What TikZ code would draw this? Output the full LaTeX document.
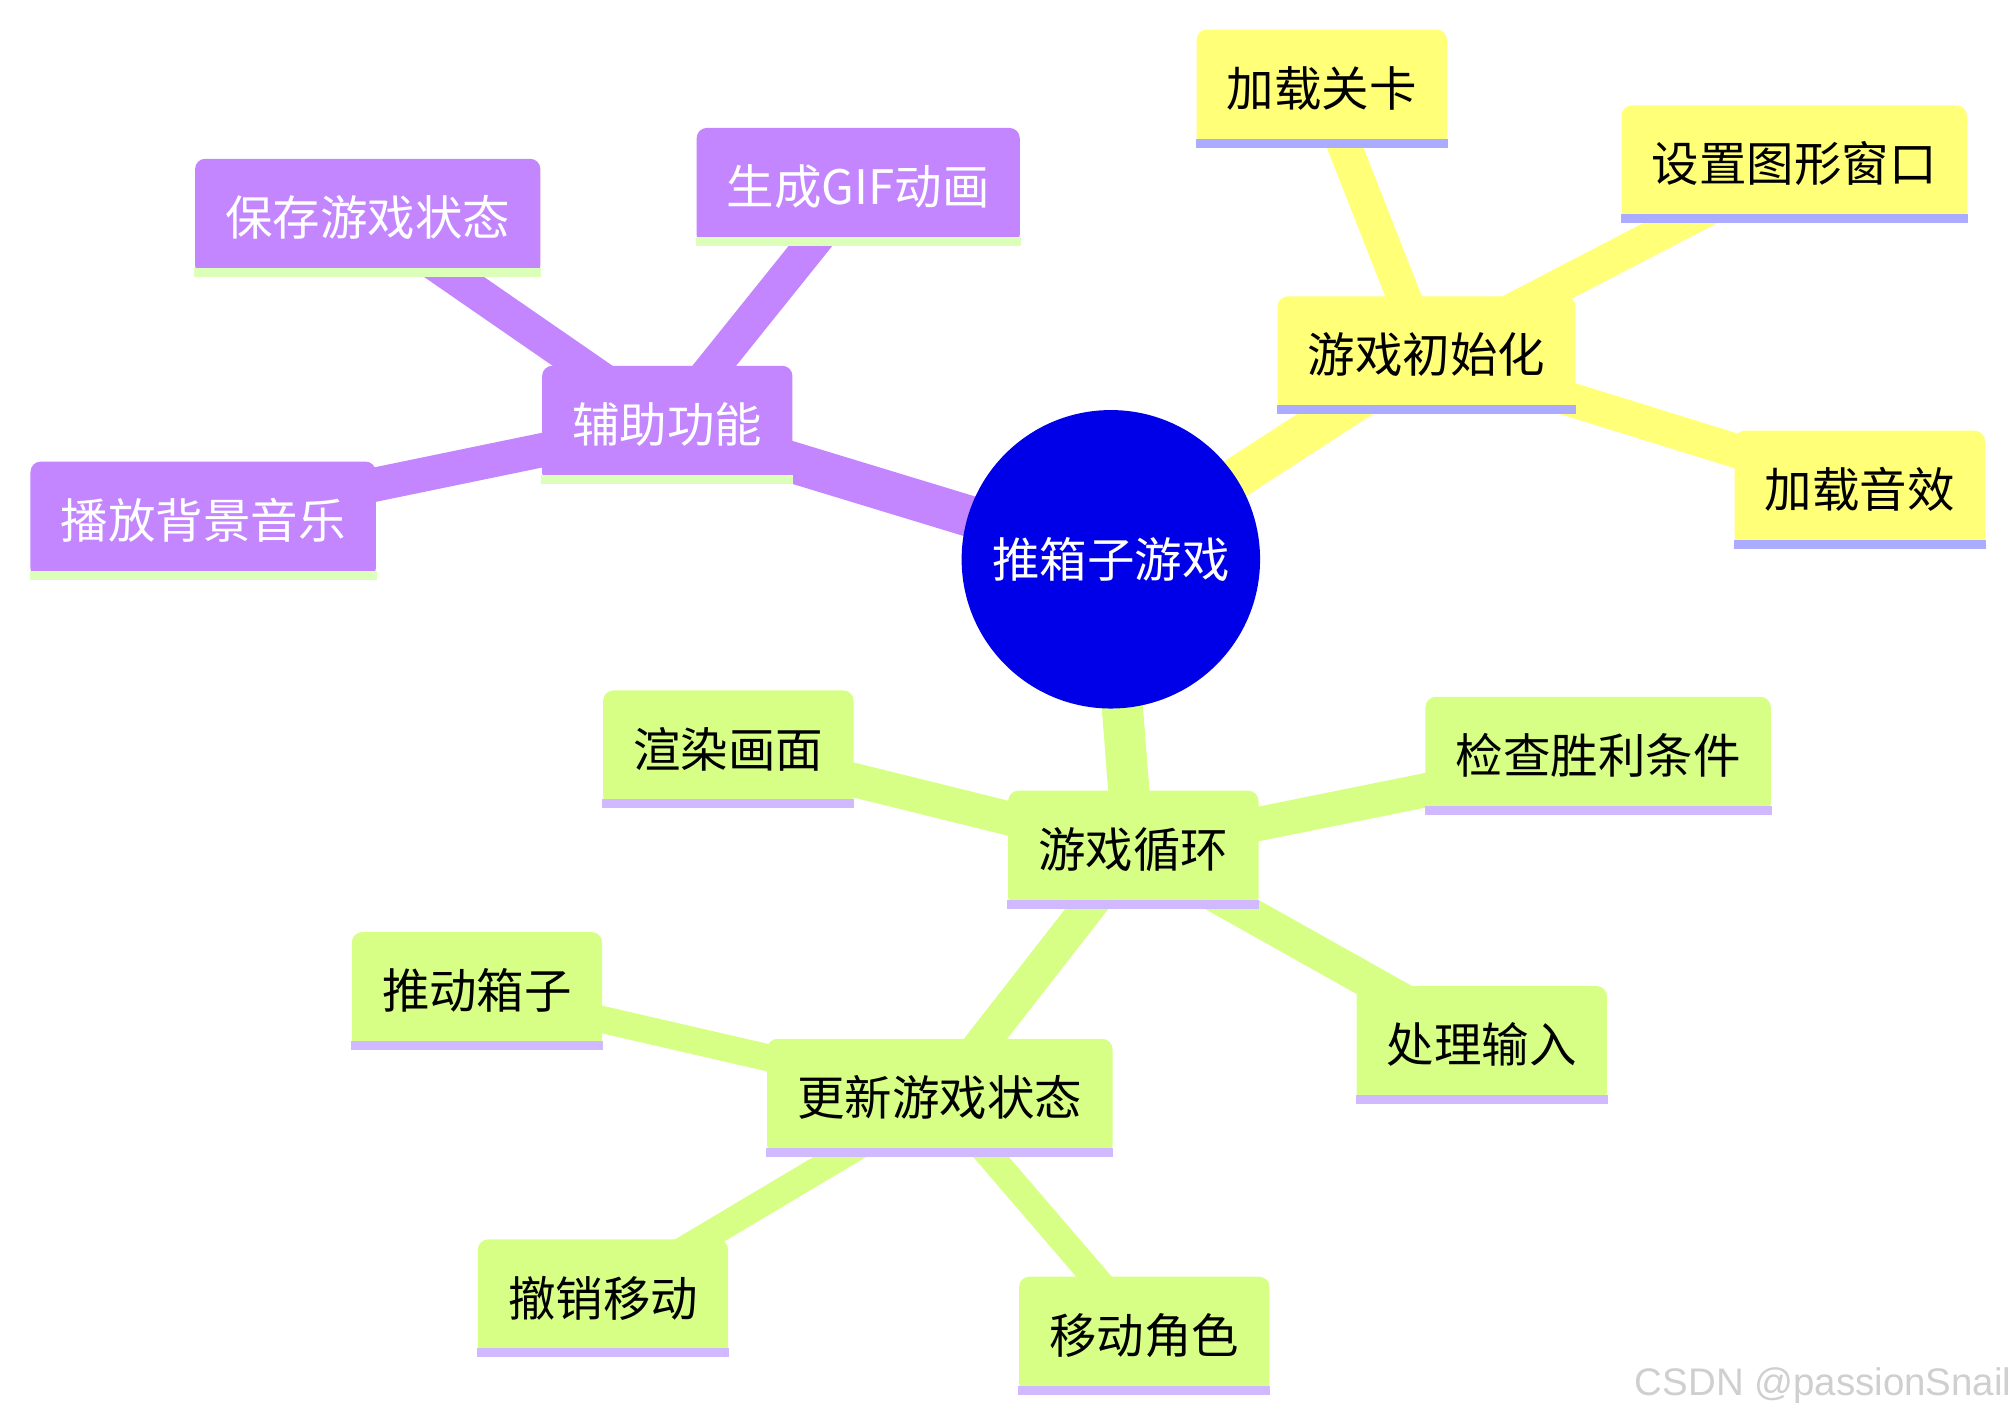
\documentclass[tikz,border=0pt]{standalone}
\usepackage{fontspec}
\setmainfont{Noto Sans CJK SC}
\newfontfamily\wmfont{Liberation Sans}
\usepackage{xcolor}
\usetikzlibrary{backgrounds}
\definecolor{rootblue}{HTML}{0000E8}
\definecolor{secyel}{HTML}{FFFF78}
\definecolor{secgrn}{HTML}{D7FF86}
\definecolor{secpur}{HTML}{C386FF}
\definecolor{lineyel}{HTML}{ABABFF}
\definecolor{linegrn}{HTML}{D0B9FF}
\definecolor{linepur}{HTML}{DCFFB9}
\definecolor{wmgray}{HTML}{CFCFCF}
\tikzset{
  mmbox/.style={rounded corners=0.08cm,minimum height=0.91cm,
                inner xsep=0.235cm,inner ysep=0pt,
                font=\fontsize{10.5pt}{12pt}\selectfont},
  yelbox/.style={mmbox,fill=secyel,text=black},
  grnbox/.style={mmbox,fill=secgrn,text=black},
  purbox/.style={mmbox,fill=secpur,text=white},
  rootnode/.style={circle,fill=rootblue,text=white,minimum size=2.32cm,
                   inner sep=0pt,font=\fontsize{10.5pt}{12pt}\selectfont},
  rootedge/.style={line width=0.32cm},
  subedge/.style={line width=0.265cm},
  leafedge/.style={line width=0.21cm}
}

\begin{document}
\begin{tikzpicture}[x=0.01cm,y=-0.01cm]
  \path[use as bounding box] (0,0) rectangle (1568,1105);
  \node[rootnode] (root) at (864,435) {推箱子游戏};
  % 游戏初始化
  \node[yelbox] (init)   at (1109.5,276)   {游戏初始化};
  \node[yelbox] (level)  at (1028,68.5)    {加载关卡};
  \node[yelbox] (window) at (1395.5,127.5) {设置图形窗口};
  \node[yelbox] (sound)  at (1446.5,380.5) {加载音效};
  % 游戏循环
  \node[grnbox] (loop)   at (881.5,660.5)  {游戏循环};
  \node[grnbox] (render) at (566.5,582.5)  {渲染画面};
  \node[grnbox] (check)  at (1243,587.5)   {检查胜利条件};
  \node[grnbox] (input)  at (1152.5,812.5) {处理输入};
  \node[grnbox] (update) at (731,853.5)    {更新游戏状态};
  \node[grnbox] (push)   at (371,770.5)    {推动箱子};
  \node[grnbox] (undo)   at (469,1009.5)   {撤销移动};
  \node[grnbox] (move)   at (890,1038.5)   {移动角色};
  % 辅助功能
  \node[purbox] (aux)    at (519,330)      {辅助功能};
  \node[purbox] (save)   at (286,169)      {保存游戏状态};
  \node[purbox] (gif)    at (667.5,145)    {生成GIF动画};
  \node[purbox] (music)  at (158,404.5)    {播放背景音乐};
  \foreach \n/\c in {init/lineyel,level/lineyel,window/lineyel,sound/lineyel,
                     loop/linegrn,render/linegrn,check/linegrn,input/linegrn,
                     update/linegrn,push/linegrn,undo/linegrn,move/linegrn,
                     aux/linepur,save/linepur,gif/linepur,music/linepur}
    \fill[\c] (\n.south west) rectangle ([yshift=0.07cm]\n.south east);
  \begin{scope}[on background layer]
    \draw[rootedge,secyel] (root.center) -- (init.center);
    \draw[rootedge,secgrn] (root.center) -- (loop.center);
    \draw[rootedge,secpur] (root.center) -- (aux.center);
    \foreach \n in {level,window,sound}
      \draw[subedge,secyel] (init.center) -- (\n.center);
    \foreach \n in {render,check,input,update}
      \draw[subedge,secgrn] (loop.center) -- (\n.center);
    \foreach \n in {push,undo,move}
      \draw[leafedge,secgrn] (update.center) -- (\n.center);
    \foreach \n in {save,gif,music}
      \draw[subedge,secpur] (aux.center) -- (\n.center);
  \end{scope}
  \node[font=\wmfont\fontsize{8.5pt}{10pt}\selectfont,text=wmgray] (wm)
    at (1418,1078) {CSDN @passionSnail};
\end{tikzpicture}
\end{document}
